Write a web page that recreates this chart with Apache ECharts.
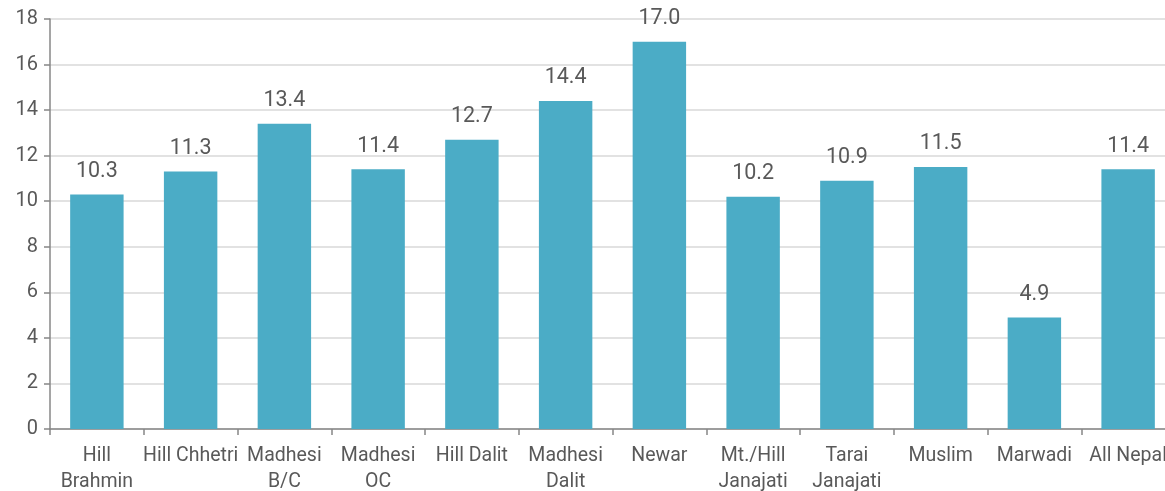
<!DOCTYPE html>
<html>
<head>
<meta charset="utf-8">
<script src="https://cdn.jsdelivr.net/npm/echarts@6/dist/echarts.min.js"></script>
<style>
  html, body { margin: 0; padding: 0; background: #fff; }
  #chart { width: 1165px; height: 491px; }
</style>
</head>
<body>
<div id="chart"></div>
<script>
const categories = ['Hill\nBrahmin', 'Hill Chhetri', 'Madhesi\nB/C', 'Madhesi\nOC', 'Hill Dalit', 'Madhesi\nDalit',
  'Newar', 'Mt./Hill\nJanajati', 'Tarai\nJanajati', 'Muslim', 'Marwadi', 'All Nepal'];
const values = [10.3, 11.3, 13.4, 11.4, 12.7, 14.4, 17.0, 10.2, 10.9, 11.5, 4.9, 11.4];
const yTicks = { min: 0, max: 18, interval: 2 };

const font = "Roboto, 'Liberation Sans', Arial, sans-serif";
const textColor = '#595959';
const axisColor = '#878787';

const chart = echarts.init(document.getElementById('chart'));
chart.setOption({
  animation: false,
  grid: { left: 50, right: -10, top: 19, bottom: 62, containLabel: false, outerBoundsMode: 'none' },
  xAxis: {
    type: 'category',
    data: categories,
    axisLine: { lineStyle: { color: axisColor, width: 1.5 } },
    axisTick: { show: true, length: 6, alignWithLabel: false, lineStyle: { color: axisColor, width: 1.5 } },
    axisLabel: { color: textColor, fontFamily: font, fontSize: 19.5, lineHeight: 26, margin: 14, interval: 0 },
  },
  yAxis: {
    type: 'value',
    min: yTicks.min,
    max: yTicks.max,
    interval: yTicks.interval,
    axisLine: { show: true, lineStyle: { color: axisColor, width: 1.5 } },
    axisTick: { show: true, length: 6, lineStyle: { color: axisColor, width: 1.5 } },
    axisLabel: { color: textColor, fontFamily: font, fontSize: 20, margin: 12 },
    splitLine: { lineStyle: { color: '#d9d9d9', width: 1.5 } },
  },
  series: [{
    type: 'bar',
    data: values,
    barWidth: '57%',
    itemStyle: { color: '#4BACC6' },
    label: {
      show: true,
      position: 'top',
      distance: 12,
      color: textColor,
      fontFamily: font,
      fontSize: 21.5,
      formatter: p => p.value.toFixed(1),
    },
  }],
});
</script>
</body>
</html>
